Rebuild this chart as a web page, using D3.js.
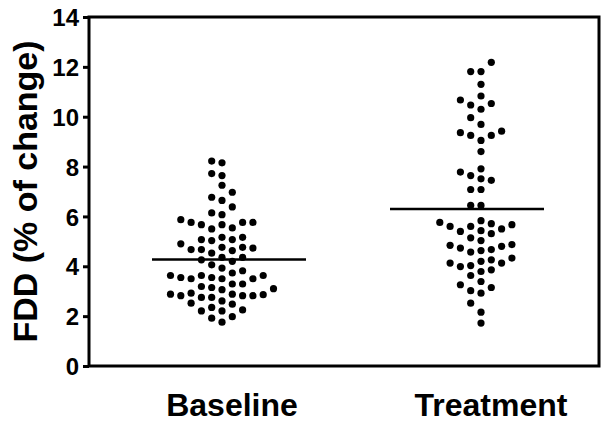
<!DOCTYPE html>
<html>
<head>
<meta charset="utf-8">
<script src="https://cdn.jsdelivr.net/npm/d3@7"></script>
<style>
  body { margin: 0; background: #fff; }
  text { font-family: Arial, "Liberation Sans", sans-serif; font-weight: bold; fill: #000; }
</style>
</head>
<body>
<div class="container"></div>
<script>
// values (% change in FDD)
const groups = ["Baseline", "Treatment"];
const baseline = [8.22, 8.15, 7.64, 7.72, 7.25, 6.97, 6.64, 6.77, 6.38, 6.14, 6.07, 5.76, 5.76, 5.67,
    5.50, 5.54, 5.67, 5.76, 5.87, 5.16, 5.07, 5.03, 5.07, 5.16, 4.76, 4.73, 4.67, 4.53, 4.63, 4.67,
    4.76, 4.90, 4.36, 4.20, 4.06, 4.26, 4.36, 3.93, 3.82, 3.55, 3.50, 3.50, 3.63, 3.63, 3.63, 3.73,
    3.55, 3.50, 3.29, 3.19, 3.29, 3.10, 2.92, 2.86, 2.82, 2.82, 2.75, 2.75, 2.82, 2.88, 2.88, 3.06,
    3.15, 2.52, 2.48, 2.61, 2.35, 2.21, 2.21, 2.25, 1.98, 1.92, 1.76];
const treatment = [12.18, 11.81, 11.81, 11.30, 10.83, 10.67, 10.47, 10.30, 10.53, 9.96, 9.69, 9.36,
    9.25, 9.05, 9.25, 9.42, 8.60, 7.78, 7.51, 7.64, 7.91, 7.45, 7.08, 7.08, 6.44, 6.44, 5.71, 5.60,
    5.50, 5.43, 5.76, 5.83, 5.60, 5.67, 5.14, 5.31, 5.40, 4.87, 4.80, 4.84, 4.67, 5.03, 4.73, 4.63,
    4.57, 4.26, 4.13, 4.03, 4.33, 3.99, 3.79, 4.13, 4.20, 3.86, 3.63, 3.39, 3.15, 2.92, 3.02, 3.26,
    2.52, 2.16, 1.72];
const means = [4.27, 6.3];
const yTicks = [0, 2, 4, 6, 8, 10, 12, 14];

const width = 609, height = 424;
const margin = {top: 17, right: 10, bottom: 58, left: 89};

const svg = d3.select(".container")
              .append("svg")
              .attr("width", width)
              .attr("height", height);

const y = d3.scaleLinear()
            .domain([0, 14])
            .range([height - margin.bottom, margin.top]);
// dot columns, mean bars and labels are not quite on the same centre in the original
const x = d3.scalePoint()
            .domain(groups)
            .range([222, 481]);
const xBar = d3.scalePoint()
               .domain(groups)
               .range([229, 467]);

// frame
svg.append("rect")
   .attr("x", margin.left)
   .attr("y", margin.top)
   .attr("width", width - margin.right - margin.left)
   .attr("height", height - margin.bottom - margin.top)
   .attr("fill", "none")
   .attr("stroke", "#000")
   .attr("stroke-width", 3);

const yAxis = svg.append("g")
                 .attr("transform", `translate(${margin.left},0)`)
                 .call(d3.axisLeft(y).tickValues(yTicks).tickSize(6).tickPadding(4));
yAxis.select(".domain").remove();
yAxis.selectAll("line").attr("stroke-width", 3);
yAxis.selectAll("text")
     .attr("font-size", 24)
     .attr("font-family", "Arial, 'Liberation Sans', sans-serif")
     .attr("font-weight", "bold")
     .attr("dy", "0.36em");

svg.append("text")
   .attr("transform", `translate(37,${(margin.top + height - margin.bottom) / 2}) rotate(-90)`)
   .attr("text-anchor", "middle")
   .attr("font-size", 34)
   .text("FDD (% of change)");

svg.selectAll(".cat")
   .data(groups)
   .join("text")
   .attr("class", "cat")
   .attr("x", d => x(d) + 10)
   .attr("y", 416)
   .attr("text-anchor", "middle")
   .attr("font-size", 32)
   .text(d => d);

// column scatter: each point goes to the nearest free column around the centre
const step = 10.3, gap = 9.5;
function swarm(values, group) {
    const pts = values.map(v => ({v, group})).sort((a, b) => a.v - b.v);
    const cols = new Map();
    pts.forEach(d => {
        const py = y(d.v);
        for (let k = 0; ; k++) {
            const s = k === 0 ? 0 : (k % 2 ? -Math.ceil(k / 2) : k / 2);
            const col = cols.get(s) || [];
            if (col.every(q => Math.abs(q - py) >= gap)) {
                col.push(py);
                cols.set(s, col);
                d.slot = s;
                break;
            }
        }
    });
    return pts;
}
const points = swarm(baseline, "Baseline").concat(swarm(treatment, "Treatment"));

svg.selectAll("circle")
   .data(points)
   .join("circle")
   .attr("cx", d => x(d.group) + d.slot * step)
   .attr("cy", d => y(d.v))
   .attr("r", 3.6)
   .attr("fill", "#000");

svg.selectAll(".mean")
   .data(groups)
   .join("line")
   .attr("class", "mean")
   .attr("x1", d => xBar(d) - 77)
   .attr("x2", d => xBar(d) + 77)
   .attr("y1", (d, i) => y(means[i]))
   .attr("y2", (d, i) => y(means[i]))
   .attr("stroke", "#000")
   .attr("stroke-width", 2.5);
</script>
</body>
</html>
